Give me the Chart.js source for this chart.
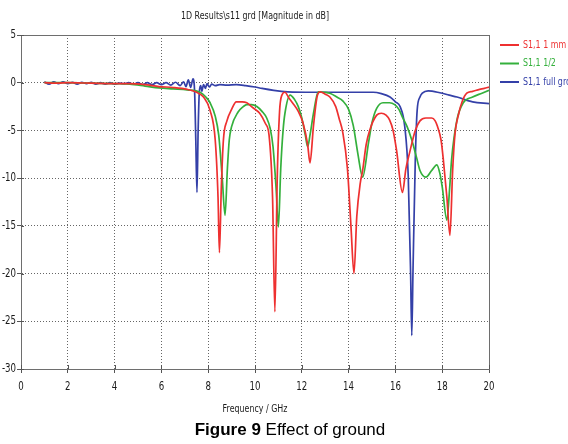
<!DOCTYPE html>
<html>
<head>
<meta charset="utf-8">
<script src="https://cdn.jsdelivr.net/npm/chart.js@4"></script>
<style>
  html, body { margin: 0; padding: 0; background: #fff; }
  #wrap { width: 568px; height: 444px; }
</style>
</head>
<body>
<div id="wrap"><canvas id="myChart" width="568" height="444"></canvas></div>
<script>
// data
const chartTitle = '1D Results\\s11 grd [Magnitude in dB]';
const xTitle = 'Frequency / GHz';
const seriesNames = ['S1,1 1 mm', 'S1,1 1/2', 'S1,1 full grd'];
const seriesColors = ['rgb(238,48,48)', 'rgb(52,176,60)', 'rgb(52,64,168)'];

const redFreq = [1.0, 1.5, 2.0, 3.0, 4.0, 4.65, 5.3, 5.9, 6.5, 7.1, 7.5, 7.8, 8.08, 8.3, 8.42, 8.48, 8.56, 8.65, 8.8, 9.0, 9.2, 9.45, 9.65, 9.9, 10.2, 10.45, 10.6, 10.75, 10.85, 10.95, 11.05, 11.15, 11.28, 11.45, 11.6, 11.85, 12.05, 12.25, 12.35, 12.5, 12.65, 12.78, 13.0, 13.2, 13.45, 13.6, 13.75, 13.95, 14.1, 14.23, 14.35, 14.5, 14.6, 14.75, 14.9, 15.2, 15.4, 15.6, 15.75, 15.9, 16.05, 16.3, 16.45, 16.6, 16.85, 17.05, 17.3, 17.55, 17.7, 17.8, 17.95, 18.05, 18.2, 18.33, 18.45, 18.55, 18.7, 18.85, 19.05, 19.3, 19.6, 19.8, 20.0];
const redDb = [0.0, -0.05, 0.0, -0.05, -0.1, -0.1, -0.2, -0.4, -0.5, -0.7, -1.0, -1.5, -2.9, -6, -12, -17.8, -11, -6, -4.0, -2.8, -2.0, -2.0, -2.1, -2.6, -3.2, -4.3, -5.5, -12, -24.0, -10, -3, -1.3, -1.0, -1.6, -2.1, -3.0, -4.2, -6.5, -8.4, -4.5, -1.5, -0.95, -1.2, -1.5, -2.5, -3.8, -5.2, -9, -15, -20.0, -14, -10.5, -9.2, -6.5, -5.0, -3.4, -3.2, -3.4, -3.9, -5.0, -7.1, -11.5, -9, -7.4, -5.0, -4.0, -3.7, -3.7, -4.0, -4.6, -6.0, -8.1, -12, -16.0, -9, -5.3, -3.3, -2.0, -1.1, -0.9, -0.7, -0.6, -0.45];

const greenFreq = [1.0, 2.0, 3.0, 4.0, 4.65, 5.3, 5.9, 6.5, 7.1, 7.65, 7.9, 8.08, 8.3, 8.45, 8.6, 8.72, 8.82, 8.9, 9.0, 9.27, 9.5, 9.65, 9.85, 10.08, 10.3, 10.5, 10.65, 10.77, 10.9, 11.0, 11.1, 11.2, 11.28, 11.5, 11.7, 11.85, 12.0, 12.15, 12.25, 12.35, 12.5, 12.7, 13.0, 13.2, 13.5, 13.75, 14.0, 14.2, 14.4, 14.6, 14.85, 15.0, 15.2, 15.47, 15.75, 15.97, 16.15, 16.3, 16.5, 16.7, 16.9, 17.05, 17.3, 17.55, 17.77, 17.9, 18.0, 18.2, 18.32, 18.4, 18.63, 18.9, 19.3, 19.7, 20.0];
const greenDb = [0.0, 0.0, -0.05, -0.1, -0.15, -0.35, -0.55, -0.65, -0.75, -1.0, -1.5, -2.1, -3.5, -5.5, -10, -13.9, -9, -6, -4.6, -3.1, -2.5, -2.3, -2.3, -2.5, -3.0, -3.7, -4.8, -6.7, -11, -15.1, -9, -5, -3.2, -1.3, -1.8, -2.5, -3.7, -5.5, -6.7, -5.5, -3.2, -0.95, -1.0, -1.1, -1.5, -1.9, -2.8, -4.5, -7.5, -9.9, -6.3, -4.2, -2.7, -2.1, -2.1, -2.3, -2.8, -3.6, -4.6, -6.0, -7.8, -9.2, -9.9, -9.2, -8.6, -9.5, -10.9, -14.4, -11, -8.1, -3.9, -2.1, -1.5, -1.1, -0.8];

const blueFreq = [1.0, 1.2, 1.4, 1.6, 1.8, 2.0, 2.2, 2.4, 2.6, 2.8, 3.0, 3.2, 3.4, 3.6, 3.8, 4.0, 4.2, 4.4, 4.6, 4.8, 5.0, 5.2, 5.4, 5.6, 5.8, 6.0, 6.2, 6.4, 6.6, 6.8, 6.95, 7.05, 7.15, 7.25, 7.35, 7.42, 7.47, 7.52, 7.57, 7.62, 7.68, 7.73, 7.8, 7.88, 7.95, 8.05, 8.15, 8.3, 8.5, 8.8, 9.2, 9.6, 10.0, 10.3, 10.8, 11.4, 12.5, 13.6, 15.05, 15.4, 15.77, 16.0, 16.2, 16.4, 16.55, 16.65, 16.7, 16.75, 16.85, 16.93, 17.05, 17.15, 17.4, 17.9, 18.3, 18.63, 19.3, 20.0];
const blueDb = [0.1, -0.15, 0.1, -0.1, 0.1, -0.1, 0.05, -0.15, 0.05, -0.1, 0.05, -0.15, 0.0, -0.15, 0.0, -0.15, -0.05, -0.1, 0.0, -0.15, 0.0, -0.2, 0.0, -0.2, 0.0, -0.2, 0.0, -0.25, 0.05, -0.3, 0.1, -0.4, 0.3, -0.5, 0.4, -1, -6, -11.5, -5, -1, -0.3, -0.9, -0.2, -0.6, -0.1, -0.45, -0.15, -0.3, -0.2, -0.25, -0.2, -0.3, -0.45, -0.6, -0.8, -0.95, -1.0, -1.0, -1.0, -1.15, -1.5, -2.0, -2.5, -4.6, -9.9, -20, -26.5, -20, -8.1, -2.9, -1.5, -1.1, -0.85, -1.05, -1.3, -1.5, -2.0, -2.2];

const textFont = "'DejaVu Sans', sans-serif";
const squeeze = 0.72;

function toPoints(xs, ys) {
	return xs.map((x, i) => ({ x: x, y: ys[i] }));
}

// draws text squeezed sideways like the original narrow font
function narrowText(ctx, text, x, y, align) {
	ctx.save();
	ctx.translate(x, y);
	ctx.scale(squeeze, 1);
	ctx.textAlign = align;
	ctx.fillText(text, 0, 0);
	ctx.restore();
}

// title, legend, frame, tick labels and caption
const extras = {
	id: 'extras',
	afterDraw(chart) {
		const ctx = chart.ctx;
		const area = chart.chartArea;
		const xs = chart.scales.x;
		const ys = chart.scales.y;
		ctx.save();
		// frame
		ctx.strokeStyle = '#6e6e6e';
		ctx.lineWidth = 1;
		ctx.beginPath();
		ctx.moveTo(area.left, area.top + 0.5);
		ctx.lineTo(area.right + 0.5, area.top + 0.5);
		ctx.lineTo(area.right + 0.5, area.bottom);
		ctx.stroke();

		// small ticks inside the axes
		ctx.strokeStyle = '#555';
		ctx.beginPath();
		xs.ticks.forEach(t => {
			const px = Math.round(xs.getPixelForValue(t.value)) + 0.5;
			ctx.moveTo(px, area.bottom);
			ctx.lineTo(px, area.bottom - 4);
		});
		ys.ticks.forEach(t => {
			const py = Math.round(ys.getPixelForValue(t.value)) + 0.5;
			ctx.moveTo(area.left, py);
			ctx.lineTo(area.left + 3, py);
		});
		ctx.stroke();

		// tick labels
		ctx.fillStyle = '#1a1a1a';
		ctx.font = '12px ' + textFont;
		ctx.textBaseline = 'middle';
		xs.ticks.forEach(t => {
			narrowText(ctx, t.label, xs.getPixelForValue(t.value), 387, 'center');
		});
		ys.ticks.forEach(t => {
			narrowText(ctx, t.label, 16, ys.getPixelForValue(t.value), 'right');
		});

		// axis title
		ctx.font = '11px ' + textFont;
		narrowText(ctx, xTitle, (area.left + area.right) / 2, 409, 'center');

		// title
		ctx.fillStyle = '#222';
		narrowText(ctx, chartTitle, (area.left + area.right) / 2, 16, 'center');

		// legend
		chart.data.datasets.forEach((ds, i) => {
			const y = 45 + i * 18.5;
			ctx.strokeStyle = ds.borderColor;
			ctx.lineWidth = 2;
			ctx.beginPath();
			ctx.moveTo(500, y);
			ctx.lineTo(519, y);
			ctx.stroke();
			ctx.fillStyle = ds.borderColor;
			narrowText(ctx, ds.label, 523, y, 'left');
		});

		// caption
		ctx.fillStyle = '#000';
		ctx.textBaseline = 'alphabetic';
		ctx.textAlign = 'left';
		const boldPart = 'Figure 9';
		const restPart = ' Effect of ground';
		ctx.font = 'bold 17px "Liberation Sans", Arial, sans-serif';
		const w1 = ctx.measureText(boldPart).width;
		ctx.font = '17px "Liberation Sans", Arial, sans-serif';
		const w2 = ctx.measureText(restPart).width;
		const x0 = 290 - (w1 + w2) / 2;
		ctx.font = 'bold 17px "Liberation Sans", Arial, sans-serif';
		ctx.fillText(boldPart, x0, 435);
		ctx.font = '17px "Liberation Sans", Arial, sans-serif';
		ctx.fillText(restPart, x0 + w1, 435);
		ctx.restore();
	}
};

const data = {
	datasets: [
		{ label: seriesNames[0], data: toPoints(redFreq, redDb), borderColor: seriesColors[0] },
		{ label: seriesNames[1], data: toPoints(greenFreq, greenDb), borderColor: seriesColors[1] },
		{ label: seriesNames[2], data: toPoints(blueFreq, blueDb), borderColor: seriesColors[2] }
	]
};

const config = {
	type: 'line',
	data,
	plugins: [extras],
	options: {
		responsive: false,
		animation: false,
		layout: { padding: { top: 35, right: 79, bottom: 27, left: 0 } },
		elements: {
			point: { radius: 0 },
			line: { borderWidth: 1.7, tension: 0.4, cubicInterpolationMode: 'monotone' }
		},
		plugins: {
			legend: { display: false },
			title: { display: false },
			tooltip: { enabled: false }
		},
		scales: {
			x: {
				type: 'linear',
				min: 0,
				max: 20,
				afterFit: (scale) => { scale.height = 48; },
				ticks: { stepSize: 2, display: false },
				grid: { color: '#666', tickLength: 4, tickColor: '#555', tickBorderDash: [] },
				border: { color: '#6e6e6e', display: true, dash: [1, 2] }
			},
			y: {
				min: -30,
				max: 5,
				afterFit: (scale) => { scale.width = 21; },
				ticks: { stepSize: 5, display: false },
				grid: { color: '#666', tickLength: 4, tickColor: '#555', tickBorderDash: [] },
				border: { color: '#6e6e6e', display: true, dash: [1, 2] }
			}
		}
	}
};

const myChart = new Chart(document.getElementById('myChart'), config);
</script>
</body>
</html>
